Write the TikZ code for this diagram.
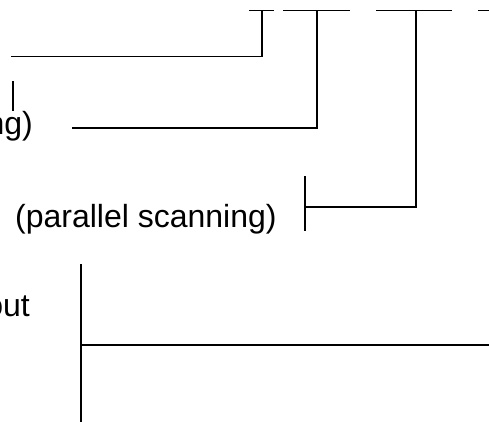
\documentclass[tikz,border=0pt]{standalone}
\usepackage{fontspec}
\setmainfont{Liberation Sans}
\tikzset{
  wire/.style={line width=1.7pt, line cap=rect},
  lbl/.style={inner sep=0pt, font=\fontsize{32}{37}\selectfont}
}
\begin{document}
\begin{tikzpicture}[x=1pt,y=-1pt]
\useasboundingbox (0,0) rectangle (489,422);
% labels
\node[lbl, anchor=base east] (t1) at (33,135) {ng)};
\node[lbl, anchor=base west] (t2) at (15,227) {(parallel scanning)};
\node[lbl, anchor=base east] (t3) at (30,316) {out};
% top short bars
\coordinate (a1) at (250,10.5); \coordinate (a2) at (273,10.5);
\coordinate (b1) at (284,10.5); \coordinate (b2) at (349,10.5);
\coordinate (c1) at (377,10.5); \coordinate (c2) at (451,10.5);
\coordinate (d1) at (479,10.5); \coordinate (d2) at (490,10.5);
\draw[wire] (a1) -- (a2);
\draw[wire] (b1) -- (b2);
\draw[wire] (c1) -- (c2);
\draw[wire] (d1) -- (d2);
% connector 1
\coordinate (v1) at (262,10.5); \coordinate (h1) at (12,56.5);
\draw[wire] (v1) |- (h1);
% small tick
\coordinate (s1) at (13,82); \coordinate (s2) at (13,110);
\draw[wire] (s1) -- (s2);
% connector 2
\coordinate (v2) at (317,10.5); \coordinate (h2) at (73,128);
\draw[wire] (v2) |- (h2);
% connector 3
\coordinate (v3) at (416,10.5); \coordinate (h3) at (305,207);
\draw[wire] (v3) |- (h3);
\coordinate (p1) at (305,177); \coordinate (p2) at (305,230);
\draw[wire] (p1) -- (p2);
% bottom bar
\coordinate (q1) at (81,265); \coordinate (q2) at (81,422);
\draw[wire] (q1) -- (q2);
\coordinate (r1) at (81,345); \coordinate (r2) at (490,345);
\draw[wire] (r1) -- (r2);
\end{tikzpicture}
\end{document}
